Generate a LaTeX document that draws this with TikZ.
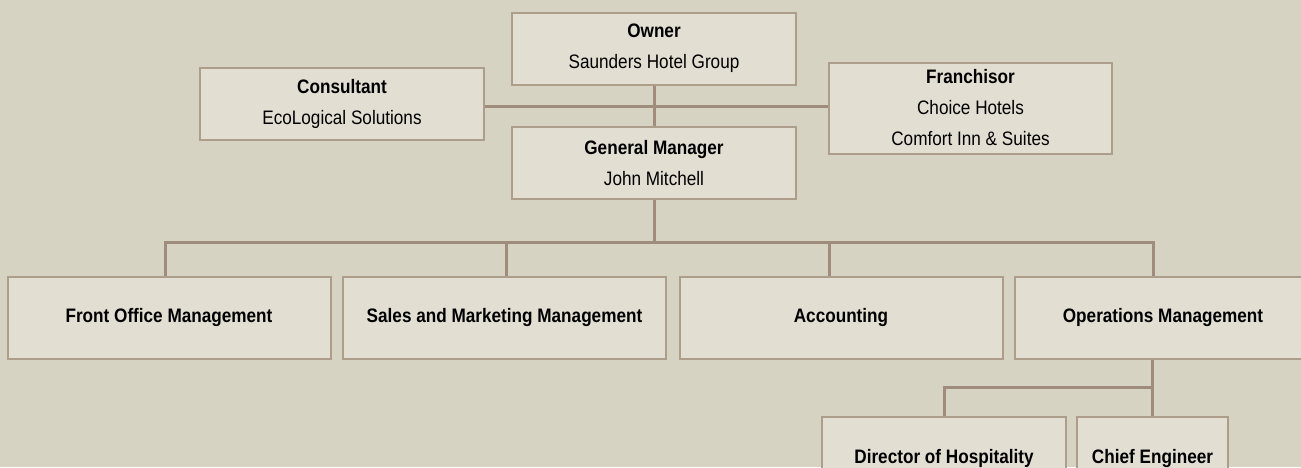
\documentclass[tikz,border=0pt]{standalone}
\usepackage{fontspec}
\setmainfont{Liberation Sans}[FakeStretch=0.88]
\definecolor{bgc}{HTML}{D7D3C3}
\definecolor{boxfill}{HTML}{E2DED2}
\definecolor{boxline}{HTML}{AD9D8B}
\definecolor{conn}{HTML}{A08C7A}
\tikzset{
  orgbox/.style={draw=boxline, fill=boxfill, line width=2pt, align=center,
    inner sep=0pt, font=\fontsize{19.5}{31}\selectfont},
  link/.style={draw=conn, line width=3pt}
}
\begin{document}
\begin{tikzpicture}[x=1pt,y=-1pt]
\fill[bgc] (0,0) rectangle (1301,467);
\useasboundingbox (0,0) rectangle (1301,467);
\clip (0,0) rectangle (1301,467);
% connector junction points
\coordinate (hub) at (654,106);
\coordinate (bus) at (654,242);
\coordinate (d1) at (165,242);
\coordinate (d2) at (506,242);
\coordinate (d3) at (829,242);
\coordinate (d4) at (1153,242);
\coordinate (opsdrop) at (1152.5,387);
\coordinate (dirdrop) at (944,387);
% top level
\node[orgbox, minimum width=284pt, minimum height=72pt] (owner) at (654,48.5)
  {\textbf{Owner}\\Saunders Hotel Group};
\node[orgbox, minimum width=284pt, minimum height=72pt] (cons) at (342,104)
  {\textbf{Consultant}\\EcoLogical Solutions};
\node[orgbox, minimum width=283pt, minimum height=91pt] (fran) at (970.5,108)
  {\textbf{Franchisor}\\Choice Hotels\\Comfort Inn \& Suites};
\node[orgbox, minimum width=284pt, minimum height=72pt] (gm) at (654,163)
  {\textbf{General Manager}\\John Mitchell};
% departments
\node[orgbox, minimum width=323pt, minimum height=82pt] (front) at (169,317.5)
  {\textbf{Front Office Management}};
\node[orgbox, minimum width=323pt, minimum height=82pt] (sales) at (504.5,317.5)
  {\textbf{Sales and Marketing Management}};
\node[orgbox, minimum width=323pt, minimum height=82pt] (acct) at (841,317.5)
  {\textbf{Accounting}};
\node[orgbox, minimum width=296pt, minimum height=82pt] (ops) at (1163,317.5)
  {\textbf{Operations Management}};
% sub level
\node[orgbox, minimum width=244pt, minimum height=82pt] (dir) at (944,458)
  {\textbf{Director of Hospitality}};
\node[orgbox, minimum width=151pt, minimum height=82pt] (chief) at (1152.5,458)
  {\textbf{Chief Engineer}};
% connectors
\draw[link] (owner.south) -- (gm.north);
\draw[link] (hub -| cons.east) -- (hub -| fran.west);
\draw[link] (gm.south) -- (bus);
\draw[link] (d1 |- front.north) -- (d1) -- (d4) -- (d4 |- ops.north);
\draw[link] (d2) -- (d2 |- sales.north);
\draw[link] (d3) -- (d3 |- acct.north);
\draw[link] (opsdrop |- ops.south) -- (opsdrop |- chief.north);
\draw[link] (opsdrop) -- (dirdrop) -- (dir.north);
\end{tikzpicture}
\end{document}
